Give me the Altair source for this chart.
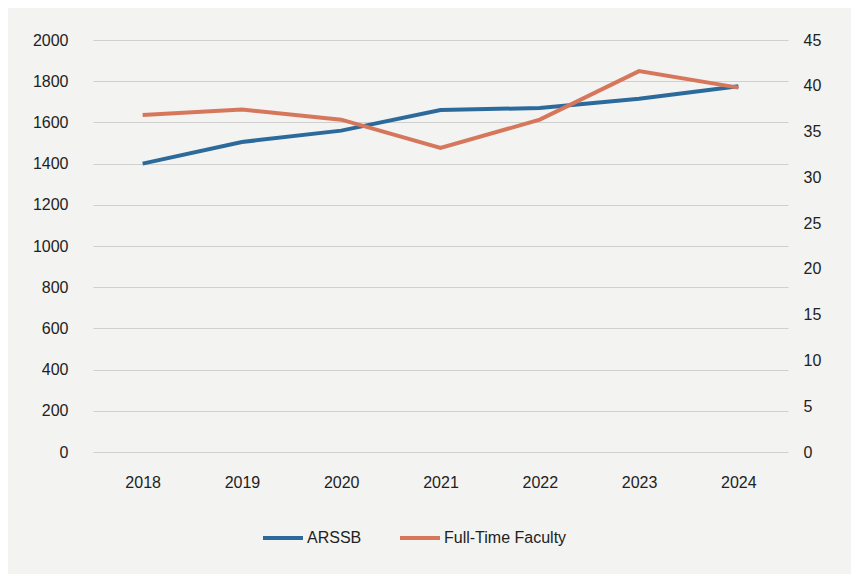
import altair as alt
import pandas as pd

years = ["2018", "2019", "2020", "2021", "2022", "2023", "2024"]
arssb = [1400, 1505, 1560, 1660, 1670, 1715, 1775]
faculty = [36.8, 37.4, 36.3, 33.2, 36.3, 41.6, 39.8]

df = pd.DataFrame({
    "Year": years * 2,
    "Series": ["ARSSB"] * 7 + ["Full-Time Faculty"] * 7,
    "Left": arssb + [None] * 7,
    "Right": [None] * 7 + faculty,
})

FONT = "Liberation Sans"
blue = "#2c6a9c"
orange = "#d6775c"
FS = 16

color = alt.Color(
    "Series:N",
    scale=alt.Scale(domain=["ARSSB", "Full-Time Faculty"], range=[blue, orange]),
    legend=alt.Legend(
        title=None, orient="none", direction="horizontal",
        legendX=168, legendY=476,
        symbolType="stroke", symbolStrokeWidth=4, symbolSize=1600,
        labelFontSize=FS, labelFont=FONT, labelColor="#222222",
        columnPadding=30, labelOffset=2,
    ),
)

x = alt.X("Year:O", sort=years, title=None,
          scale=alt.Scale(paddingInner=0, paddingOuter=0.5),
          axis=alt.Axis(labelAngle=0, ticks=False, domain=False, grid=False,
                        labelPadding=22, labelFontSize=FS, labelFont=FONT,
                        labelColor="#222222"))

left = alt.Chart(df).transform_filter("datum.Series == 'ARSSB'").mark_line(
    strokeWidth=4).encode(
    x=x,
    y=alt.Y("Left:Q", title=None,
            scale=alt.Scale(domain=[0, 2000]),
            axis=alt.Axis(values=list(range(0, 2001, 200)), format="d", ticks=False,
                          domain=False, grid=True, gridColor="#cfcfcf", gridWidth=1.2,
                          labelPadding=25, labelFontSize=FS, labelFont=FONT,
                          labelColor="#222222")),
    color=color,
)

right = alt.Chart(df).transform_filter("datum.Series == 'Full-Time Faculty'").mark_line(
    strokeWidth=4).encode(
    x=x,
    y=alt.Y("Right:Q", title=None,
            scale=alt.Scale(domain=[0, 45]),
            axis=alt.Axis(orient="right", values=list(range(0, 46, 5)), format="d",
                          ticks=False, domain=False, grid=False, labelPadding=15,
                          labelFontSize=FS, labelFont=FONT, labelColor="#222222")),
    color=color,
)

chart = alt.layer(left, right).resolve_scale(y="independent").properties(
    width=695, height=412,
    padding={"left": 24, "top": 24, "right": 30, "bottom": 30},
    background="#f3f3f1",
).configure_view(stroke=None)

chart.save("out.html", embed_options={"renderer": "svg", "actions": False})
